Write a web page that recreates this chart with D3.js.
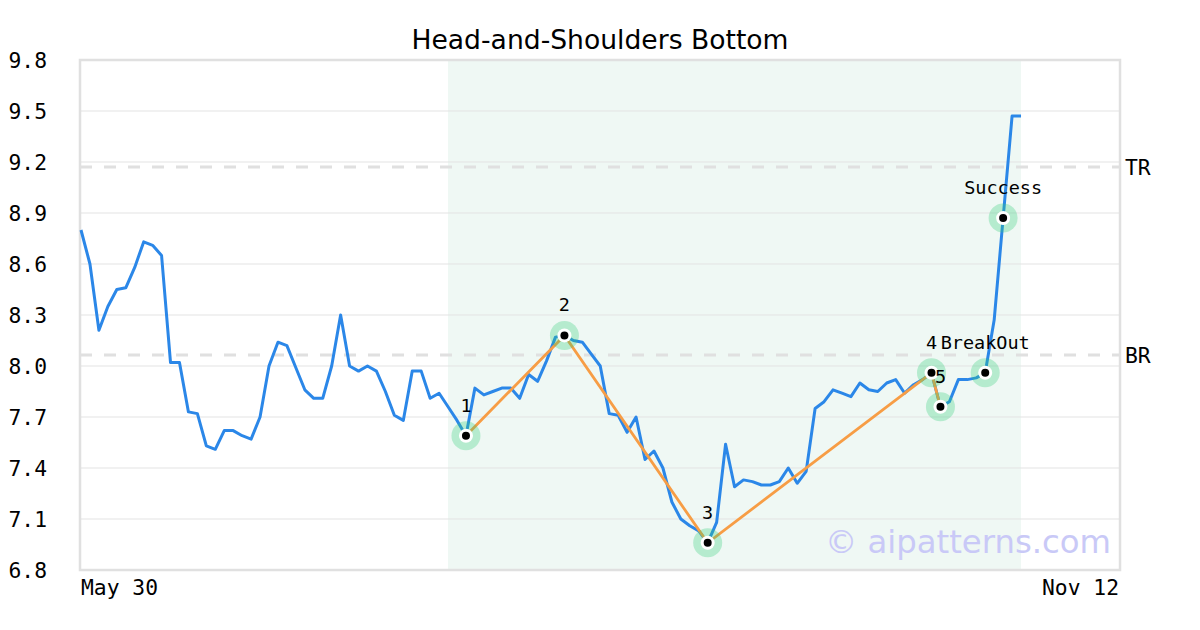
<!DOCTYPE html>
<html>
<head>
<meta charset="utf-8">
<script src="https://cdn.jsdelivr.net/npm/d3@7"></script>
<style>
  body { margin: 0; background: #fff; }
  svg { display: block; }
  .axis text { font-family: "DejaVu Sans Mono", monospace; font-size: 21.33px; fill: #000; }
  .axis path, .axis line { display: none; }
</style>
</head>
<body>
<div id="chart"></div>
<script>
// closing prices, one per trading day
const prices = [
  8.80, 8.60, 8.21, 8.35, 8.45, 8.46, 8.58, 8.73, 8.71, 8.65,
  8.02, 8.02, 7.73, 7.72, 7.53, 7.51, 7.62, 7.62, 7.59, 7.57,
  7.70, 8.00, 8.14, 8.12, 7.99, 7.86, 7.81, 7.81, 8.00, 8.30,
  8.00, 7.97, 8.00, 7.97, 7.85, 7.71, 7.68, 7.97, 7.97, 7.81,
  7.84, 7.76, 7.68, 7.59, 7.87, 7.83, 7.85, 7.87, 7.87, 7.81,
  7.95, 7.91, 8.03, 8.17, 8.18, 8.15, 8.14, 8.07, 8.00, 7.72,
  7.71, 7.61, 7.70, 7.45, 7.50, 7.40, 7.20, 7.10, 7.06, 7.03,
  6.96, 7.08, 7.54, 7.29, 7.33, 7.32, 7.30, 7.30, 7.32, 7.40,
  7.31, 7.38, 7.75, 7.79, 7.86, 7.84, 7.82, 7.90, 7.86, 7.85,
  7.90, 7.92, 7.84, 7.89, 7.92, 7.96, 7.76, 7.79, 7.92, 7.92,
  7.93, 7.96, 8.27, 8.87, 9.47, 9.47
];

// pattern pivots (index into prices) and their labels
const pivotIdx = [43, 54, 70, 95, 96];
const pivotLabels = ["1", "2", "3", "4", "5"];

// signal points
const signalIdx = [101, 103];
const signalLabels = ["BreakOut", "Success"];

// pattern window (shaded)
const patternRange = [41, 105];

// target / breakout levels
const levelValues = [9.17, 8.065];
const levelLabels = ["TR", "BR"];

const yTicks = [6.8, 7.1, 7.4, 7.7, 8.0, 8.3, 8.6, 8.9, 9.2, 9.5, 9.8];
const xTickIdx = [0, 116];
const xTickLabels = ["May 30", "Nov 12"];

const title = "Head-and-Shoulders Bottom";
const watermark = "\u00a9 aipatterns.com";

const width = 1200, height = 630;
const margin = { top: 60, right: 80, bottom: 60, left: 80 };

const svg = d3.select("#chart").append("svg")
  .attr("width", width)
  .attr("height", height);

const x = d3.scaleLinear()
  .domain([0, 116])
  .range([margin.left + 1, width - margin.right - 0.5]);

const y = d3.scaleLinear()
  .domain([6.8, 9.8])
  .range([height - margin.bottom, margin.top]);

// shaded pattern window
svg.append("rect")
  .attr("x", x(patternRange[0]))
  .attr("y", y(9.8))
  .attr("width", x(patternRange[1]) - x(patternRange[0]))
  .attr("height", y(6.8) - y(9.8))
  .attr("fill", "#eff8f4");

// grid
svg.append("g").selectAll("line")
  .data(yTicks.slice(1, -1))
  .enter().append("line")
  .attr("x1", margin.left)
  .attr("x2", width - margin.right)
  .attr("y1", d => y(d))
  .attr("y2", d => y(d))
  .attr("stroke", "#e3e3e3")
  .attr("stroke-width", 1);

// level lines
svg.append("g").selectAll("line")
  .data(levelValues)
  .enter().append("line")
  .attr("x1", margin.left)
  .attr("x2", width - margin.right)
  .attr("y1", d => y(d))
  .attr("y2", d => y(d))
  .attr("stroke", "#e0e0e0")
  .attr("stroke-width", 3)
  .attr("stroke-dasharray", "12,12");

svg.append("g").selectAll("text")
  .data(levelValues)
  .enter().append("text")
  .attr("x", width - margin.right + 5)
  .attr("y", d => y(d) + 8)
  .attr("font-family", "DejaVu Sans Mono, monospace")
  .attr("font-size", "21.33px")
  .text((d, i) => levelLabels[i]);

// frame
svg.append("rect")
  .attr("x", margin.left)
  .attr("y", margin.top)
  .attr("width", width - margin.left - margin.right)
  .attr("height", height - margin.top - margin.bottom)
  .attr("fill", "none")
  .attr("stroke", "#e0e0e0")
  .attr("stroke-width", 2.5);

// axes
svg.append("g")
  .attr("class", "axis")
  .attr("transform", "translate(" + margin.left + ",0)")
  .call(d3.axisLeft(y).tickValues(yTicks).tickFormat(d3.format(".1f")).tickSize(0).tickPadding(33))
  .selectAll("text")
  .attr("dy", "0.37em");

svg.append("g")
  .attr("class", "axis")
  .attr("transform", "translate(0," + (height - margin.bottom) + ")")
  .call(d3.axisBottom(x).tickValues(xTickIdx).tickFormat((d, i) => xTickLabels[i]).tickSize(0).tickPadding(10))
  .selectAll("text")
  .attr("text-anchor", (d, i) => i === 0 ? "start" : "end")
  .attr("dx", (d, i) => i === 0 ? "-0.5" : "-1");

// price line
var line = d3.line()
  .x((d, i) => x(i))
  .y(d => y(d));

svg.append("path")
  .datum(prices)
  .attr("fill", "none")
  .attr("stroke", "#2b87e8")
  .attr("stroke-width", 3)
  .attr("stroke-linejoin", "round")
  .attr("d", line);

// pattern line
var pivotLine = d3.line()
  .x(d => x(d))
  .y(d => y(prices[d]));

svg.append("path")
  .datum(pivotIdx)
  .attr("fill", "none")
  .attr("stroke", "#f79d45")
  .attr("stroke-width", 2.8)
  .attr("d", pivotLine);

// markers
const markers = pivotIdx.map((d, i) => ({ idx: d, label: pivotLabels[i] }))
  .concat(signalIdx.map((d, i) => ({ idx: d, label: signalLabels[i] })));

var m = svg.append("g").selectAll("g")
  .data(markers)
  .enter().append("g")
  .attr("transform", d => "translate(" + x(d.idx) + "," + y(prices[d.idx]) + ")");

m.append("circle").attr("r", 14.5).attr("fill", "rgba(46,204,120,0.3)");
m.append("circle").attr("r", 7).attr("fill", "#fff");
m.append("circle").attr("r", 4).attr("fill", "#000");

svg.append("g").selectAll("text")
  .data(markers)
  .enter().append("text")
  .attr("x", d => x(d.idx))
  .attr("y", d => y(prices[d.idx]) - 24)
  .attr("text-anchor", "middle")
  .attr("font-family", "DejaVu Sans Mono, monospace")
  .attr("font-size", "18.5px")
  .text(d => d.label);

// title
svg.append("text")
  .attr("x", width / 2)
  .attr("y", 49)
  .attr("text-anchor", "middle")
  .attr("font-family", "DejaVu Sans, sans-serif")
  .attr("font-size", "26.6px")
  .text(title);

// watermark
svg.append("text")
  .attr("x", 1111)
  .attr("y", 553)
  .attr("text-anchor", "end")
  .attr("font-family", "DejaVu Sans, sans-serif")
  .attr("font-size", "32.3px")
  .attr("fill", "#c9c9f7")
  .text(watermark);
</script>
</body>
</html>
